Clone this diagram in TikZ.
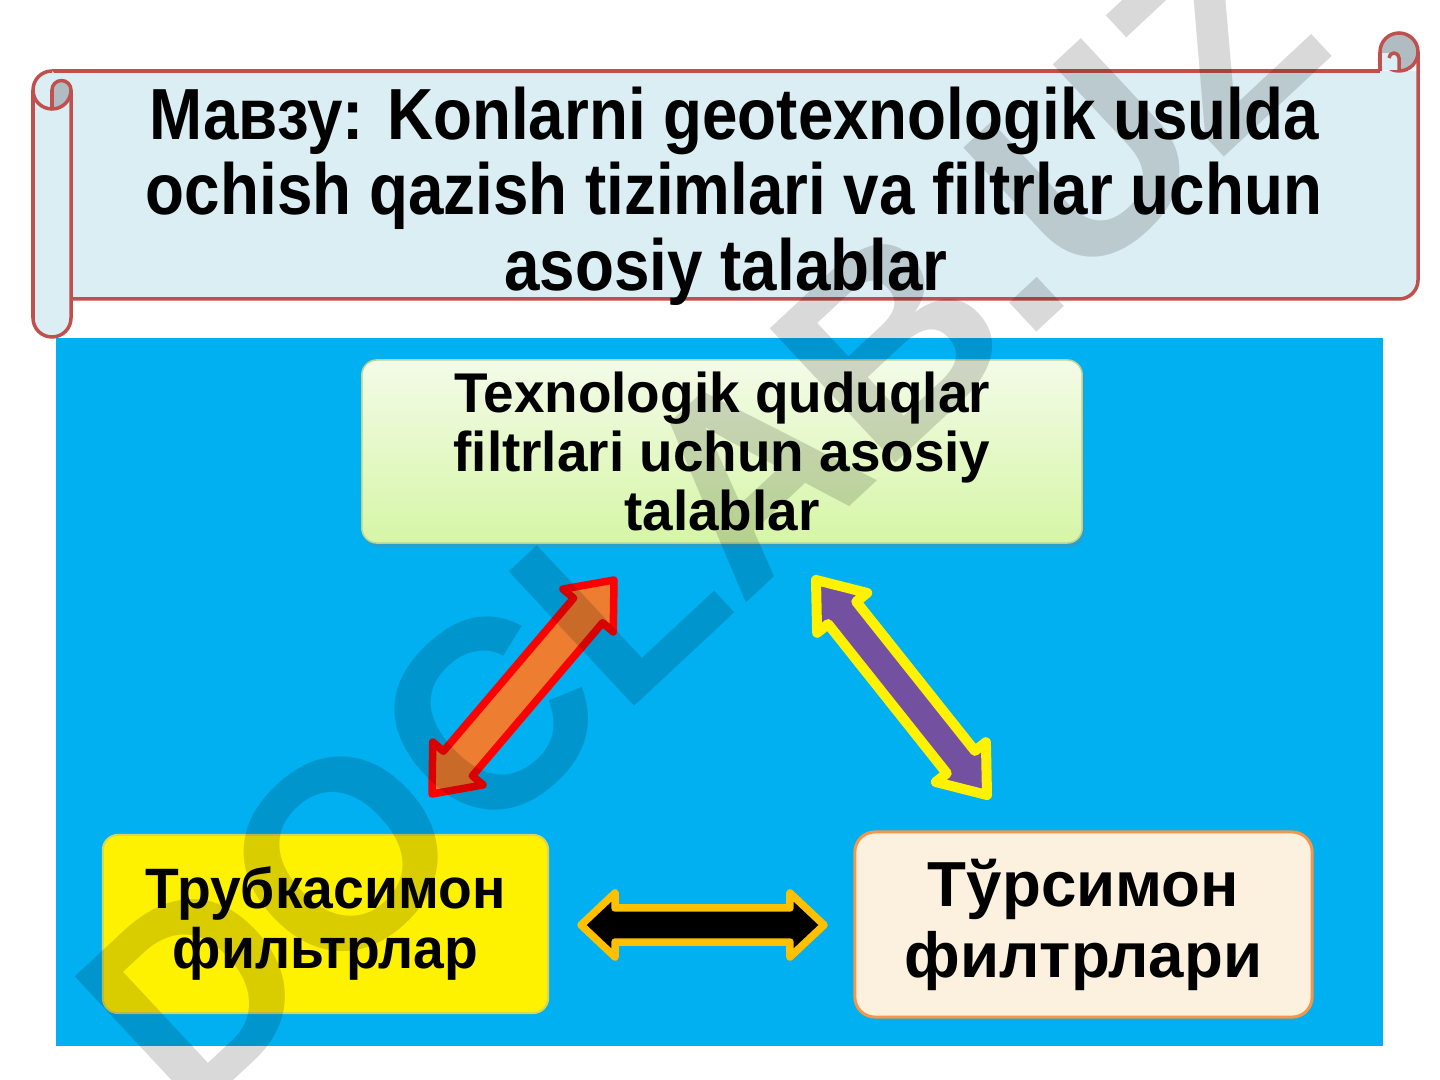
\documentclass[tikz,border=0pt]{standalone}
\usepackage{fontspec}
\setmainfont{Liberation Sans}
\newfontfamily\titlefont[FakeStretch=0.88]{Liberation Sans}
\newfontfamily\boxfont[FakeStretch=0.98]{Liberation Sans}
\newfontfamily\ylwfont[FakeStretch=0.97]{Liberation Sans}
\usetikzlibrary{calc,shadows}
\definecolor{scrollred}{RGB}{192,80,77}
\definecolor{scrollfill}{RGB}{219,238,244}
\definecolor{curlgray}{RGB}{176,188,194}
\definecolor{bgblue}{RGB}{0,176,240}
\definecolor{greentop}{RGB}{243,251,232}
\definecolor{greenbot}{RGB}{214,246,166}
\definecolor{greenedge}{RGB}{185,210,150}
\definecolor{parch}{RGB}{251,241,222}
\definecolor{parchedge}{RGB}{247,150,70}
\definecolor{ylwedge}{RGB}{215,215,90}
\definecolor{arrorange}{RGB}{237,125,49}
\definecolor{arrpurple}{RGB}{116,80,160}
\definecolor{arrgold}{RGB}{255,192,0}
\newcommand\blockarrow[6]{%
  \coordinate (ba1) at ($(#2)!#6!(#3)$);
  \coordinate (ba2) at ($(#3)!#6!(#2)$);
  \draw[#1] (#2) -- ($(ba1)!#5!90:(#3)$) -- ($(ba1)!#4!90:(#3)$)
     -- ($(ba2)!#4!-90:(#2)$) -- ($(ba2)!#5!-90:(#2)$) -- (#3)
     -- ($(ba2)!#5!90:(#2)$) -- ($(ba2)!#4!90:(#2)$)
     -- ($(ba1)!#4!-90:(#3)$) -- ($(ba1)!#5!-90:(#3)$) -- cycle;
}
\begin{document}
\begin{tikzpicture}[x=0.01cm,y=-0.01cm,
  scrollline/.style={draw=scrollred, line width=0.035cm, line join=round},
  boxbase/.style={rounded corners=0.15cm, align=center, inner sep=0pt},
  greenbox/.style={boxbase, top color=greentop, bottom color=greenbot, draw=greenedge,
     line width=0.015cm, minimum width=7.2cm, minimum height=1.83cm,
     font=\boxfont\bfseries\fontsize{15.93}{16.79}\selectfont,
     drop shadow={shadow xshift=0.02cm, shadow yshift=-0.04cm, opacity=0.3}},
  yellowbox/.style={boxbase, fill=yellow, draw=ylwedge, line width=0.02cm,
     minimum width=4.45cm, minimum height=1.78cm,
     font=\ylwfont\bfseries\fontsize{16.2}{17.07}\selectfont},
  parchbox/.style={boxbase, rounded corners=0.2cm, fill=parch, draw=parchedge, line width=0.03cm,
     minimum width=4.57cm, minimum height=1.85cm,
     font=\bfseries\fontsize{18.1}{20.2}\selectfont},
  orangearrow/.style={fill=arrorange, draw=red, line width=0.075cm, line join=round,
     drop shadow={shadow xshift=0.02cm, shadow yshift=-0.03cm, opacity=0.25}},
  purplearrow/.style={fill=arrpurple, draw=yellow, line width=0.1cm, line join=round,
     drop shadow={shadow xshift=0.02cm, shadow yshift=-0.03cm, opacity=0.25}},
  blackarrow/.style={fill=black, draw=arrgold, line width=0.075cm, line join=round,
     drop shadow={shadow xshift=0.02cm, shadow yshift=-0.03cm, opacity=0.25}}
]
\useasboundingbox (0,0) rectangle (1440,1080);
\fill[white] (0,0) rectangle (1440,1080);

% ---------- scroll ----------
\path[fill=scrollfill] (52,71) -- (1418,71) -- (1418,280) arc[start angle=0,end angle=90,radius=19] -- (52,299) -- cycle;
\draw[scrollline] (52,71) -- (1380,71);
\draw[scrollline] (1418,52) -- (1418,280) arc[start angle=0,end angle=90,radius=19] -- (71,299);
% right roll
\filldraw[scrollline, fill=curlgray] (1399,52) circle[radius=19];
\fill[scrollfill] (1381,53) rectangle (1399,70);
\draw[scrollline] (1380,52) -- (1380,71);
\draw[scrollline] (1399,71) -- (1399,58) arc[start angle=0,end angle=-180,radius=5];
% left roll
\fill[scrollfill] (52,71) arc[start angle=270,end angle=180,radius=19] -- (33,318)
   arc[start angle=180,end angle=0,radius=19] -- (71,90) -- cycle;
\draw[scrollline] (71,90) -- (71,318) arc[start angle=0,end angle=180,radius=19] -- (33,90)
   arc[start angle=180,end angle=270,radius=19];
\draw[scrollline] (33,90) arc[start angle=180,end angle=90,radius=19];
\filldraw[scrollline, fill=curlgray] (52,109) -- (52,90) arc[start angle=180,end angle=360,radius=9.5]
   arc[start angle=0,end angle=90,radius=19] -- cycle;

\node[font=\titlefont\bfseries\fontsize{20.6}{21.48}\selectfont, align=center, inner sep=0pt]
  (title) at (734,196) {Мавзу: Konlarni geotexnologik usulda\\ochish qazish tizimlari va filtrlar uchun\\asosiy talablar\hspace*{0.16cm}};

% ---------- blue panel ----------
\fill[bgblue] (56,338) rectangle (1383,1046);

\node[greenbox] (req) at (722,451.5) {Texnologik quduqlar\\filtrlari uchun asosiy\\talablar};
\node[yellowbox] (tube) at (325.5,924) {Трубкасимон\\фильтрлар};
\node[parchbox] (mesh) at (1083.5,924.5) {Тўрсимон\\филтрлари};

% ---------- block arrows ----------
\coordinate (o1) at (432,794); \coordinate (o2) at (614,580);
\coordinate (p1) at (816,580); \coordinate (p2) at (987,795);
\coordinate (k1) at (581,925); \coordinate (k2) at (824,925);
\blockarrow{orangearrow}{o1}{o2}{0.19cm}{0.33cm}{0.40cm}
\blockarrow{purplearrow}{p1}{p2}{0.18cm}{0.32cm}{0.42cm}
\blockarrow{blackarrow}{k1}{k2}{0.17cm}{0.32cm}{0.34cm}

% ---------- watermark ----------
\node[rotate=43, text=black, text opacity=0.15, inner sep=0pt,
  font=\bfseries\fontsize{76}{76}\selectfont] (wm) at (700,520) {DOCLAB.UZ};
\end{tikzpicture}
\end{document}
